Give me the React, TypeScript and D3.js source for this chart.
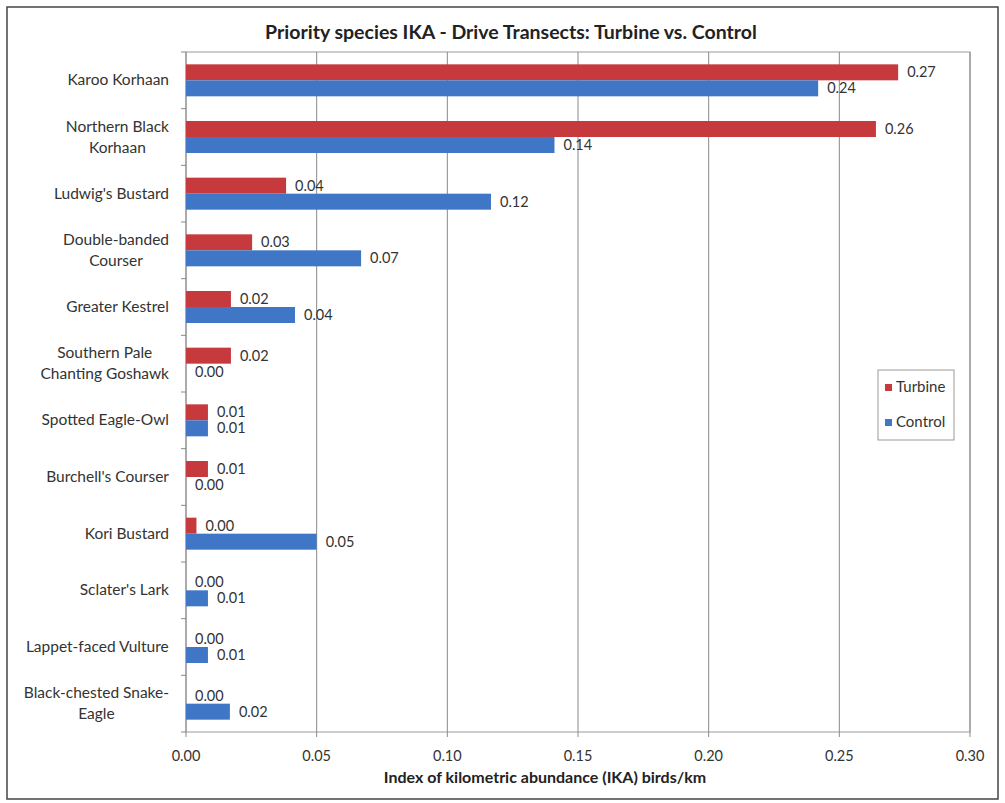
import React from "react";
import * as d3 from "d3";

const categories: string[][] = [
  ["Karoo Korhaan"],
  ["Northern Black", "Korhaan"],
  ["Ludwig's Bustard"],
  ["Double-banded", "Courser"],
  ["Greater Kestrel"],
  ["Southern Pale", "Chanting Goshawk"],
  ["Spotted Eagle-Owl"],
  ["Burchell's Courser"],
  ["Kori Bustard"],
  ["Sclater's Lark"],
  ["Lappet-faced Vulture"],
  ["Black-chested Snake-", "Eagle"],
];
const turbine = [0.2725, 0.264, 0.0383, 0.0253, 0.0172, 0.0172, 0.0084, 0.0084, 0.004, 0, 0, 0];
const control = [0.2419, 0.141, 0.1167, 0.067, 0.0417, 0, 0.0084, 0, 0.05, 0.0084, 0.0084, 0.0168];
const xTicks = [0, 0.05, 0.1, 0.15, 0.2, 0.25, 0.3];
const series = [
  { name: "Turbine", values: turbine, color: "#C63A3E" },
  { name: "Control", values: control, color: "#3F77C6" },
];

const W = 1005;
const H = 803;
const M = { left: 186, right: 970, top: 52, bottom: 732 };
const FONT = "Lato, 'Open Sans', sans-serif";
const TXT = "#333";
const CAT_SIZE = 15.5;

let ctx: CanvasRenderingContext2D | null = null;
function measure(s: string, size: number) {
  if (typeof document === "undefined") return s.length * size * 0.5;
  if (!ctx) ctx = document.createElement("canvas").getContext("2d");
  if (!ctx) return s.length * size * 0.5;
  ctx.font = `${size}px Lato`;
  return ctx.measureText(s).width;
}

export default function App() {
  const x = d3.scaleLinear().domain([0, 0.3]).range([M.left, M.right]);
  const y = d3
    .scaleBand<number>()
    .domain(d3.range(categories.length))
    .range([M.top, M.bottom]);
  const bandW = y.bandwidth();
  const barH = 16;
  return (
    <svg width={W} height={H} style={{ position: "absolute", left: 0, top: 0 }}>
      <rect x={0} y={0} width={W} height={H} fill="#fff" />
      <rect x={7} y={7} width={991} height={792} fill="none" stroke="#444" strokeWidth={1.5} />
      <text x={511} y={39} textAnchor="middle" fontFamily={FONT} fontWeight="bold" fontSize={19.5} fill="#222">
        Priority species IKA - Drive Transects: Turbine vs. Control
      </text>
      <rect x={M.left} y={M.top} width={M.right - M.left} height={M.bottom - M.top} fill="none" stroke="#999" strokeWidth={1} />
      {xTicks.map((t) => (
        <g key={t}>
          <line x1={x(t)} x2={x(t)} y1={M.top} y2={M.bottom} stroke="#8a8a8a" strokeWidth={1} />
          <line x1={x(t)} x2={x(t)} y1={M.bottom} y2={M.bottom + 5} stroke="#8a8a8a" />
          <text x={x(t)} y={M.bottom + 29} textAnchor="middle" fontFamily={FONT} fontSize={14.5} fill={TXT}>
            {t.toFixed(2)}
          </text>
        </g>
      ))}
      {d3.range(categories.length + 1).map((i) => {
        const yy = M.top + i * bandW;
        return <line key={i} x1={M.left - 5} x2={M.left} y1={yy} y2={yy} stroke="#8a8a8a" />;
      })}
      {categories.map((lines, i) => {
        const cy = (y(i) as number) + bandW / 2;
        const lh = 21;
        const y0 = cy - ((lines.length - 1) * lh) / 2 + 5;
        const maxW = Math.max(...lines.map((l) => measure(l, CAT_SIZE)));
        const cx = 169 - maxW / 2;
        return (
          <text key={i} textAnchor="middle" fontFamily={FONT} fontSize={CAT_SIZE} fill={TXT}>
            {lines.map((l, j) => (
              <tspan key={j} x={cx} y={y0 + j * lh}>
                {l}
              </tspan>
            ))}
          </text>
        );
      })}
      {series.map((s, si) =>
        s.values.map((v, i) => {
          const cy = (y(i) as number) + bandW / 2;
          const by = cy - barH + si * barH;
          return (
            <g key={s.name + i}>
              <rect x={x(0)} y={by} width={x(v) - x(0)} height={barH} fill={s.color} />
              <text x={x(v) + 9} y={by + barH / 2 + 5} fontFamily={FONT} fontSize={14.5} fill={TXT}>
                {v.toFixed(2)}
              </text>
            </g>
          );
        })
      )}
      <text x={545} y={783} textAnchor="middle" fontFamily={FONT} fontWeight="bold" fontSize={16} fill="#222">
        Index of kilometric abundance (IKA) birds/km
      </text>
      <rect x={878} y={370} width={76} height={70} fill="#fff" stroke="#999" />
      {series.map((s, i) => (
        <g key={s.name}>
          <rect x={885} y={384 + i * 35} width={7} height={7} fill={s.color} />
          <text x={896} y={392 + i * 35} fontFamily={FONT} fontSize={15} fill={TXT}>
            {s.name}
          </text>
        </g>
      ))}
    </svg>
  );
}
